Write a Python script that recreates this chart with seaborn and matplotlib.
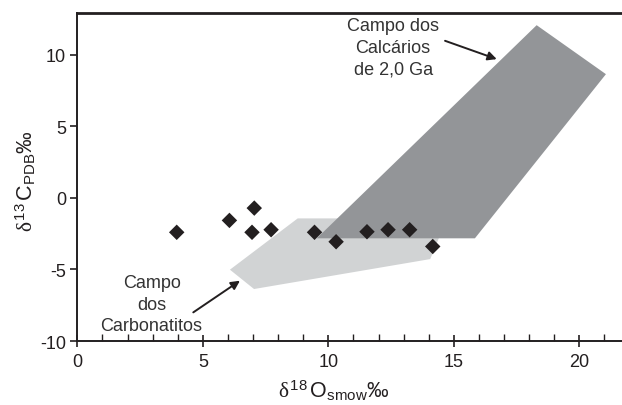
import matplotlib
matplotlib.use("Agg")
import matplotlib.pyplot as plt
import seaborn as sns
import pandas as pd
from matplotlib.patches import Polygon
from matplotlib.ticker import MultipleLocator

# Data
d18O = [3.96, 6.06, 7.05, 6.96, 7.72, 9.45, 10.31, 11.54, 12.38, 13.24, 14.16]
d13C = [-2.41, -1.58, -0.72, -2.41, -2.23, -2.41, -3.07, -2.37, -2.23, -2.23, -3.40]

calcarios_x = [9.54, 15.84, 21.06, 18.30]
calcarios_y = [-2.83, -2.83, 8.63, 12.05]

carbonatitos_x = [6.08, 8.78, 14.40, 14.40, 14.06, 7.04]
carbonatitos_y = [-5.02, -1.44, -1.44, -2.83, -4.28, -6.37]

x_ticks = [0, 5, 10, 15, 20]
y_ticks = [-10, -5, 0, 5, 10]

sns.set_theme(style="white")
plt.rcParams['font.family'] = ['Liberation Sans', 'DejaVu Sans']
plt.rcParams['axes.unicode_minus'] = False
plt.rcParams['mathtext.fontset'] = 'custom'
plt.rcParams['mathtext.rm'] = 'Liberation Sans'
plt.rcParams['mathtext.it'] = 'Liberation Serif'
plt.rcParams['mathtext.sf'] = 'Liberation Sans'

INK = '#231f20'
TXT = '#333333'

fig = plt.figure(figsize=(6.22, 4.06), dpi=100)
ax = fig.add_axes([0.1243, 0.1576, 0.8757, 0.8079])

ax.add_patch(Polygon(list(zip(carbonatitos_x, carbonatitos_y)), closed=True,
                     facecolor='#d1d3d4', edgecolor='none', zorder=1))
ax.add_patch(Polygon(list(zip(calcarios_x, calcarios_y)), closed=True,
                     facecolor='#939598', edgecolor='none', zorder=2))

df = pd.DataFrame({'x': d18O, 'y': d13C})
sns.scatterplot(data=df, x='x', y='y', marker='D', s=62, color=INK,
                edgecolor='none', linewidth=0, ax=ax, zorder=3)

ax.set_xlim(0, 21.7)
ax.set_ylim(-10, 12.9)
ax.set_xticks(x_ticks)
ax.set_yticks(y_ticks)
ax.xaxis.set_minor_locator(MultipleLocator(1))

ax.spines['right'].set_visible(False)
ax.spines['top'].set_linewidth(2.0)
ax.spines['left'].set_linewidth(1.4)
ax.spines['bottom'].set_linewidth(1.4)
for s in ['top', 'left', 'bottom']:
    ax.spines[s].set_color(INK)

ax.tick_params(axis='x', which='major', direction='inout', length=9, width=1.2,
               color=INK, labelsize=13, labelcolor=INK, pad=4, bottom=True)
ax.tick_params(axis='x', which='minor', direction='in', length=5, width=1.0,
               color=INK, bottom=True)
ax.tick_params(axis='y', which='major', direction='out', length=5, width=1.2,
               color=INK, labelsize=13, labelcolor=INK, pad=3, left=True)

ax.set_xlabel(r'$\delta^{\mathrm{18}}\,\mathrm{O}_{\mathrm{smow}}$‰', fontsize=15.5,
              color=INK)
ax.xaxis.set_label_coords(0.471, -0.148)
ax.xaxis.label.set_va('center')
ax.set_ylabel(r'$\delta^{\mathrm{13}}\,\mathrm{C}_{\mathrm{PDB}}$‰', fontsize=15.5,
              color=INK)
ax.yaxis.set_label_coords(-0.095, 0.49)
ax.yaxis.label.set_va('center')

ax.text(12.58, 10.52, 'Campo dos\nCalcários\nde 2,0 Ga', ha='center', va='center',
        fontsize=13, color=TXT, linespacing=1.36)
ax.annotate('', xy=(16.71, 9.68), xytext=(14.65, 10.96),
            arrowprops=dict(arrowstyle='-|>', color=INK, lw=1.4,
                            shrinkA=0, shrinkB=0, mutation_scale=13))

ax.text(2.96, -7.42, 'Campo\ndos\nCarbonatitos', ha='center', va='center',
        fontsize=13, color=TXT, linespacing=1.36)
ax.annotate('', xy=(6.48, -5.79), xytext=(4.62, -8.0),
            arrowprops=dict(arrowstyle='-|>', color=INK, lw=1.4,
                            shrinkA=0, shrinkB=0, mutation_scale=13))

fig.savefig('out.png', dpi=100)
